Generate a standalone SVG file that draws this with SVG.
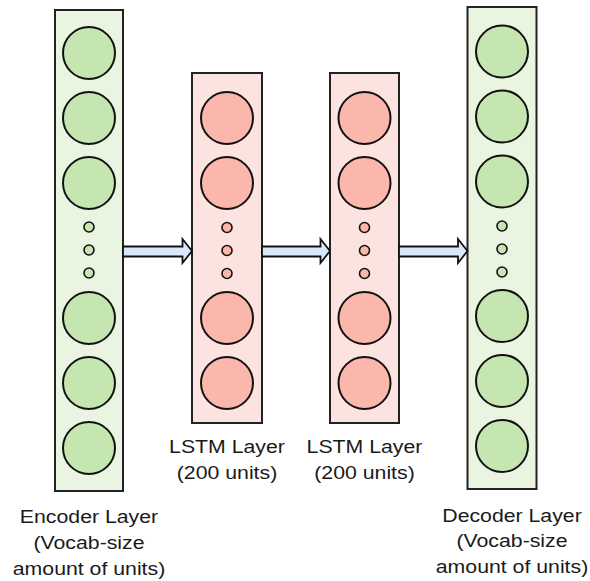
<svg xmlns="http://www.w3.org/2000/svg" width="590" height="581" viewBox="0 0 590 581">
<style>
.gbox{fill:#e9f5e0;stroke:#222;stroke-width:2}
.gc{fill:#c6e6b1;stroke:#111;stroke-width:2}
.pbox{fill:#fde3e0;stroke:#222;stroke-width:2}
.pc{fill:#fbb7ac;stroke:#111;stroke-width:2}
.dg{fill:#c6e6b1;stroke:#111;stroke-width:1.6}
.dp{fill:#fbb7ac;stroke:#111;stroke-width:1.6}
.arr{fill:#dae8fc;stroke:#111;stroke-width:1.8;stroke-linejoin:miter}
text{font-family:"Liberation Sans",Arial,sans-serif;font-size:18.5px;fill:#1a1a1a;text-anchor:middle}
</style>
<rect width="590" height="581" fill="#fff"/>
<g id="encoder">
<rect class="gbox" x="55" y="10" width="68" height="481"/>
<circle class="gc" cx="89" cy="53" r="26"/>
<circle class="gc" cx="89" cy="118" r="26"/>
<circle class="gc" cx="89" cy="183" r="26"/>
<circle class="dg" cx="89" cy="227" r="5"/>
<circle class="dg" cx="89" cy="250" r="5"/>
<circle class="dg" cx="89" cy="273" r="5"/>
<circle class="gc" cx="89" cy="318" r="26"/>
<circle class="gc" cx="89" cy="383" r="26"/>
<circle class="gc" cx="89" cy="448" r="26"/>
<text transform="translate(89,523) scale(1.15,1)">Encoder Layer</text>
<text transform="translate(89,549) scale(1.15,1)">(Vocab-size</text>
<text transform="translate(89,575) scale(1.15,1)">amount of units)</text>
</g>
<g id="lstm1">
<rect class="pbox" x="192" y="73" width="70" height="350"/>
<circle class="pc" cx="227" cy="118" r="26"/>
<circle class="pc" cx="227" cy="183" r="26"/>
<circle class="dp" cx="227" cy="227.5" r="5"/>
<circle class="dp" cx="227" cy="250.5" r="5"/>
<circle class="dp" cx="227" cy="273.5" r="5"/>
<circle class="pc" cx="227" cy="318" r="26"/>
<circle class="pc" cx="227" cy="383" r="26"/>
<text transform="translate(227,453) scale(1.15,1)">LSTM Layer</text>
<text transform="translate(227,479) scale(1.15,1)">(200 units)</text>
</g>
<g id="lstm2">
<rect class="pbox" x="330" y="73" width="69" height="350"/>
<circle class="pc" cx="364.5" cy="118" r="26"/>
<circle class="pc" cx="364.5" cy="183" r="26"/>
<circle class="dp" cx="364.5" cy="227.5" r="5"/>
<circle class="dp" cx="364.5" cy="250.5" r="5"/>
<circle class="dp" cx="364.5" cy="273.5" r="5"/>
<circle class="pc" cx="364.5" cy="318" r="26"/>
<circle class="pc" cx="364.5" cy="383" r="26"/>
<text transform="translate(364.5,453) scale(1.15,1)">LSTM Layer</text>
<text transform="translate(364.5,479) scale(1.15,1)">(200 units)</text>
</g>
<g id="decoder">
<rect class="gbox" x="467.5" y="7" width="69" height="482"/>
<circle class="gc" cx="502" cy="51.5" r="26"/>
<circle class="gc" cx="502" cy="116.5" r="26"/>
<circle class="gc" cx="502" cy="181.5" r="26"/>
<circle class="dg" cx="502" cy="226" r="5"/>
<circle class="dg" cx="502" cy="249" r="5"/>
<circle class="dg" cx="502" cy="272" r="5"/>
<circle class="gc" cx="502" cy="316" r="26"/>
<circle class="gc" cx="502" cy="381" r="26"/>
<circle class="gc" cx="502" cy="446" r="26"/>
<text transform="translate(512,522) scale(1.15,1)">Decoder Layer</text>
<text transform="translate(512,547) scale(1.15,1)">(Vocab-size</text>
<text transform="translate(512,573) scale(1.15,1)">amount of units)</text>
</g>
<g id="connectors">
<path class="arr" d="M123,246.5 H182.5 V239 L192,251 L182.5,263 V256.5 H123 Z"/>
<path class="arr" d="M262,246.5 H320.5 V239 L330,251 L320.5,263 V256.5 H262 Z"/>
<path class="arr" d="M399,246.5 H458 V239 L467.5,251 L458,263 V256.5 H399 Z"/>
</g>
</svg>
